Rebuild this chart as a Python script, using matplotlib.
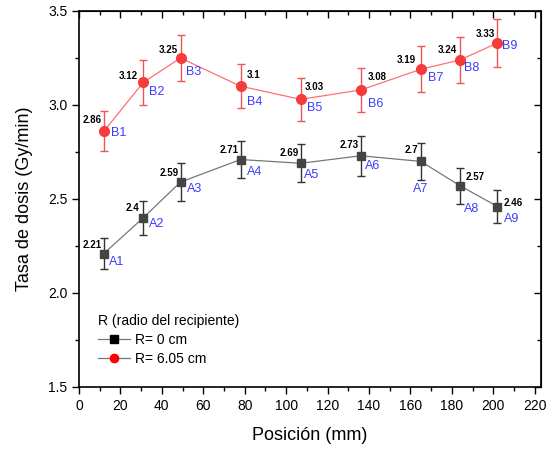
import matplotlib
matplotlib.use('Agg')
import matplotlib.pyplot as plt
from matplotlib.ticker import MultipleLocator

plt.rcParams['font.family'] = ['Liberation Sans', 'DejaVu Sans']

# positions (mm)
pos = [12, 31, 49, 78, 107, 136, 165, 184, 202]

# R = 0 cm (A points)
tasa_a = [2.21, 2.40, 2.59, 2.71, 2.69, 2.73, 2.70, 2.57, 2.46]
err_a = [0.08, 0.09, 0.10, 0.10, 0.10, 0.105, 0.10, 0.095, 0.09]
names_a = ['A1', 'A2', 'A3', 'A4', 'A5', 'A6', 'A7', 'A8', 'A9']
vals_a = ['2.21', '2.4', '2.59', '2.71', '2.69', '2.73', '2.7', '2.57', '2.46']

# R = 6.05 cm (B points)
tasa_b = [2.86, 3.12, 3.25, 3.10, 3.03, 3.08, 3.19, 3.24, 3.33]
err_b = [0.106, 0.12, 0.124, 0.117, 0.116, 0.118, 0.122, 0.122, 0.126]
names_b = ['B1', 'B2', 'B3', 'B4', 'B5', 'B6', 'B7', 'B8', 'B9']
vals_b = ['2.86', '3.12', '3.25', '3.1', '3.03', '3.08', '3.19', '3.24', '3.33']

# label offsets in pixels (dx, dy, ha)
voff_a = [(-2, 9, 'right'), (-4, 10, 'right'), (-2, 9, 'right'), (-2, 10, 'right'),
          (-2, 10, 'right'), (-2, 11, 'right'), (-3, 11, 'right'), (5, 9, 'left'),
          (6, 4, 'left')]
noff_a = [(5, -8, 'left'), (6, -6, 'left'), (6, -7, 'left'), (6, -12, 'left'),
          (3, -12, 'left'), (4, -10, 'left'), (0, -28, 'center'), (4, -23, 'left'),
          (6, -12, 'left')]
voff_b = [(-2, 11, 'right'), (-5, 6, 'right'), (-3, 8, 'right'), (6, 11, 'left'),
          (4, 12, 'left'), (7, 13, 'left'), (-5, 9, 'right'), (-3, 10, 'right'),
          (-3, 9, 'right')]
noff_b = [(7, -2, 'left'), (6, -10, 'left'), (5, -14, 'left'), (6, -16, 'left'),
          (6, -9, 'left'), (7, -14, 'left'), (7, -9, 'left'), (4, -8, 'left'),
          (5, -3, 'left')]

fig = plt.figure(figsize=(5.49, 4.49), dpi=100)
ax = fig.add_axes([79/549, 1-387/449, 462/549, 376/449])

ax.errorbar(pos, tasa_a, yerr=err_a, color='#777777', lw=0.9, ecolor='#333333',
            elinewidth=1.0, capsize=3, capthick=1.0, zorder=2)
ax.plot(pos, tasa_a, 's', color='#444444', ms=5.5, zorder=3)
ax.errorbar(pos, tasa_b, yerr=err_b, color='#ff7070', lw=0.9, ecolor='#f05555',
            elinewidth=1.0, capsize=3, capthick=1.0, zorder=2)
ax.plot(pos, tasa_b, 'o', color='#f43c3c', ms=7, zorder=3)

for i in range(len(pos)):
    for y, v, n, vo, no in [(tasa_a[i], vals_a[i], names_a[i], voff_a[i], noff_a[i]),
                            (tasa_b[i], vals_b[i], names_b[i], voff_b[i], noff_b[i])]:
        ax.annotate(v, (pos[i], y), xytext=(vo[0], vo[1]), textcoords='offset pixels',
                    ha=vo[2], va='center', fontsize=7, fontweight='bold', color='black')
        ax.annotate(n, (pos[i], y), xytext=(no[0], no[1]), textcoords='offset pixels',
                    ha=no[2], va='center', fontsize=9, color='#3b3bff')

# legend
ha, = ax.plot([], [], '-s', color='#777777', mfc='black', mec='black', ms=6, lw=0.9)
hb, = ax.plot([], [], '-o', color='#777777', mfc='red', mec='red', ms=6, lw=0.9)
leg = ax.legend([ha, hb], ['R= 0 cm', 'R= 6.05 cm'], title='R (radio del recipiente)',
                loc='upper left', bbox_to_anchor=(0.02, 0.22), frameon=False,
                fontsize=10, title_fontsize=10, handlelength=2.3, handletextpad=0.4,
                labelspacing=0.35, borderpad=0.2, alignment='left')

ax.set_xlim(0, 223)
ax.set_ylim(1.5, 3.5)
ax.xaxis.set_major_locator(MultipleLocator(20))
ax.xaxis.set_minor_locator(MultipleLocator(10))
ax.yaxis.set_major_locator(MultipleLocator(0.5))
ax.yaxis.set_minor_locator(MultipleLocator(0.25))
ax.yaxis.set_major_formatter(matplotlib.ticker.FormatStrFormatter('%.1f'))
ax.tick_params(which='both', direction='out', top=False, right=False, labelsize=10, width=1)
ax.tick_params(which='major', length=5)
ax.tick_params(which='minor', length=3)
for s in ax.spines.values():
    s.set_linewidth(1.2)

# mirrored ticks on top and right pointing inward
axt = ax.secondary_xaxis('top')
axt.xaxis.set_major_locator(MultipleLocator(20))
axt.xaxis.set_minor_locator(MultipleLocator(10))
axt.tick_params(which='both', direction='in', labeltop=False, width=1)
axt.tick_params(which='major', length=5)
axt.tick_params(which='minor', length=3)
axr = ax.secondary_yaxis('right')
axr.yaxis.set_major_locator(MultipleLocator(0.5))
axr.yaxis.set_minor_locator(MultipleLocator(0.25))
axr.tick_params(which='both', direction='in', labelright=False, width=1)
axr.tick_params(which='major', length=5)
axr.tick_params(which='minor', length=3)

ax.set_xlabel('Posición (mm)', fontsize=13, labelpad=10)
ax.set_ylabel('Tasa de dosis (Gy/min)', fontsize=13, labelpad=11)

fig.savefig('out.png', dpi=100)
